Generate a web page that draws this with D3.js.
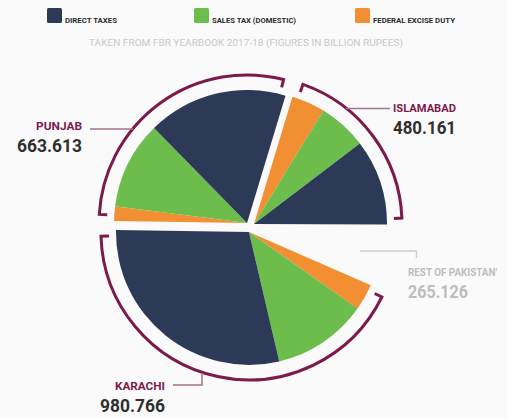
<!DOCTYPE html>
<html>
<head>
<meta charset="utf-8">
<script src="https://cdn.jsdelivr.net/npm/d3@7"></script>
<style>
  html, body { margin: 0; padding: 0; background: #fafafa; }
  svg { display: block; font-family: Roboto, "Liberation Sans", sans-serif; }
</style>
</head>
<body>
<div id="chart"></div>
<script>
// regions clockwise starting near 12 o'clock
const regions = ["ISLAMABAD", "REST OF PAKISTAN'", "KARACHI", "PUNJAB"];
const regionTotals = ["480.161", "265.126", "980.766", "663.613"];
// breakdown (billion rupees, approx)
const directTaxes = [245, 0, 680, 400];
const salesTax = [139, 0, 272, 251];
const exciseDuty = [96, 0, 76, 42];
const notBrokenDown = [0, 153, 0, 0]; // rest of pakistan, left blank in the picture
const categories = ["DIRECT TAXES", "SALES TAX (DOMESTIC)", "FEDERAL EXCISE DUTY"];
const subtitle = "TAKEN FROM FBR YEARBOOK 2017-18 (FIGURES IN BILLION RUPEES)";

const colors = {"DIRECT TAXES": "#2c3a57", "SALES TAX (DOMESTIC)": "#6cbd4c", "FEDERAL EXCISE DUTY": "#f28f33"};
const purple = "#7d1a4c";

const width = 507, height = 418;
const cx = 250, cy = 227, radius = 133, explode = 5;
const startAngle = 16.8 * Math.PI / 180;

const svg = d3.select("#chart").append("svg")
    .attr("width", width)
    .attr("height", height);

// legend
const legendX = [47, 194, 355];
const textW = [52, 84, 82];
const legend = svg.selectAll(".legend")
    .data(categories)
    .enter().append("g")
        .attr("transform", (d, i) => `translate(${legendX[i]},8)`);
legend.append("rect")
    .attr("width", 15).attr("height", 15).attr("rx", 1.5)
    .attr("fill", d => colors[d]);
legend.append("text")
    .attr("x", 18).attr("y", 14.5)
    .attr("font-size", 7).attr("font-weight", 700)
    .attr("fill", "#2b2b2b")
    .attr("textLength", (d, i) => textW[i]).attr("lengthAdjust", "spacingAndGlyphs")
    .text(d => d);

svg.append("text")
    .attr("x", 89).attr("y", 46)
    .attr("font-size", 9).attr("fill", "#c8c8c8")
    .attr("textLength", 314).attr("lengthAdjust", "spacingAndGlyphs")
    .text(subtitle);

// region slices
const regionData = regions.map((name, i) => ({
    name: name,
    total: regionTotals[i],
    parts: [
        {cat: categories[2], value: exciseDuty[i]},
        {cat: categories[1], value: salesTax[i]},
        {cat: categories[0], value: directTaxes[i]}
    ],
    blank: notBrokenDown[i]
}));

const regionPie = d3.pie()
    .sort(null)
    .value(d => d3.sum(d.parts, p => p.value) + d.blank)
    .startAngle(startAngle)
    .endAngle(startAngle + 2 * Math.PI);

const arc = d3.arc().innerRadius(0).outerRadius(radius);

const pie = svg.append("g").attr("transform", `translate(${cx},${cy})`);

regionPie(regionData).forEach(r => {
    const shown = d3.sum(r.data.parts, p => p.value);
    if (!shown) return;
    const mid = (r.startAngle + r.endAngle) / 2;
    const g = pie.append("g")
        .attr("transform", `translate(${Math.sin(mid) * explode},${-Math.cos(mid) * explode})`);

    const subPie = d3.pie().sort(null).value(d => d.value)
        .startAngle(r.startAngle).endAngle(r.endAngle);
    g.selectAll("path.slice")
        .data(subPie(r.data.parts))
        .enter().append("path")
            .attr("class", "slice")
            .attr("d", arc)
            .attr("fill", d => colors[d.data.cat]);

    // bracket round the region
    const inset = 2.5 * Math.PI / 180, ro = 148, ri = 140;
    const c0 = r.startAngle + inset - Math.PI / 2, c1 = r.endAngle - inset - Math.PI / 2;
    const p = d3.path();
    p.moveTo(ri * Math.cos(c0), ri * Math.sin(c0));
    p.lineTo(ro * Math.cos(c0), ro * Math.sin(c0));
    p.arc(0, 0, ro, c0, c1, false);
    p.lineTo(ri * Math.cos(c1), ri * Math.sin(c1));
    g.append("path")
        .attr("d", p.toString())
        .attr("fill", "none")
        .attr("stroke", purple)
        .attr("stroke-width", 3);
});

// labels and leader lines
const labelLayout = [
    {x: 393, anchor: "start", y: 112, line: [[346, 108.5], [390, 108.5]], nameW: 63, numW: 63, name: purple, num: "#2f2f2f", lineCol: "#a4738e"},
    {x: 408, anchor: "start", y: 276, line: [[360, 251], [416.5, 251], [416.5, 258]], nameW: 89, numW: 60, name: "#bdbdbd", num: "#bdbdbd", lineCol: "#cfcfcf"},
    {x: 165, anchor: "end", y: 390, line: [[173, 385], [202, 385], [202, 373]], nameW: 50, numW: 65, name: purple, num: "#2f2f2f", lineCol: "#a4738e"},
    {x: 82, anchor: "end", y: 130, line: [[90, 129], [133, 129]], nameW: 46, numW: 65, name: purple, num: "#2f2f2f", lineCol: "#a4738e"}
];

regionData.forEach((r, i) => {
    const l = labelLayout[i];
    svg.append("path")
        .attr("d", d3.line()(l.line))
        .attr("fill", "none")
        .attr("stroke", l.lineCol)
        .attr("stroke-width", 1.5);
    svg.append("text")
        .attr("x", l.x).attr("y", l.y)
        .attr("text-anchor", l.anchor)
        .attr("font-size", 11).attr("font-weight", 700)
        .attr("fill", l.name)
        .attr("textLength", l.nameW).attr("lengthAdjust", "spacingAndGlyphs")
        .text(r.name);
    svg.append("text")
        .attr("x", l.x).attr("y", l.y + 22)
        .attr("text-anchor", l.anchor)
        .attr("font-size", 19).attr("font-weight", 700)
        .attr("fill", l.num)
        .attr("textLength", l.numW).attr("lengthAdjust", "spacingAndGlyphs")
        .text(r.total);
});
</script>
</body>
</html>
